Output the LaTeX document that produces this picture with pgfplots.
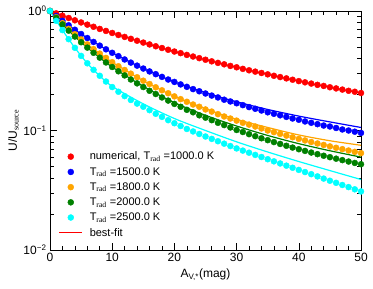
\documentclass[border=0pt]{standalone}
\usepackage{fontspec}
\setmainfont{Liberation Sans}
\newfontfamily\seriffont{Liberation Serif}
\usepackage{pgfplots}
\pgfplotsset{compat=1.18}
\usepackage{pgfplotstable}
\definecolor{myorange}{RGB}{255,165,0}
\definecolor{mygreen}{RGB}{0,128,0}
\definecolor{mycyan}{RGB}{0,255,255}

\pgfplotstableread{
x r b o g c
0 1 1 1 1 1
1 0.955 0.908 0.887 0.876 0.828
2 0.913 0.828 0.791 0.772 0.692
3 0.874 0.759 0.709 0.685 0.581
4 0.836 0.697 0.639 0.611 0.492
5 0.802 0.642 0.578 0.548 0.421
6 0.769 0.594 0.526 0.494 0.365
7 0.738 0.551 0.480 0.447 0.322
8 0.708 0.513 0.440 0.407 0.287
9 0.681 0.478 0.405 0.371 0.257
10 0.655 0.447 0.373 0.340 0.231
11 0.630 0.419 0.345 0.313 0.211
12 0.607 0.393 0.321 0.289 0.194
13 0.585 0.370 0.299 0.267 0.180
14 0.564 0.349 0.279 0.248 0.168
15 0.544 0.330 0.261 0.231 0.158
16 0.525 0.312 0.245 0.215 0.148
17 0.507 0.296 0.230 0.202 0.138
18 0.490 0.281 0.217 0.189 0.130
19 0.474 0.267 0.205 0.178 0.122
20 0.458 0.255 0.193 0.167 0.115
21 0.444 0.243 0.183 0.158 0.109
22 0.429 0.232 0.174 0.149 0.103
23 0.416 0.222 0.165 0.142 0.0982
24 0.403 0.213 0.158 0.134 0.0935
25 0.391 0.204 0.150 0.128 0.0891
26 0.379 0.196 0.144 0.122 0.0851
27 0.368 0.189 0.137 0.116 0.0813
28 0.358 0.181 0.131 0.111 0.0776
29 0.347 0.175 0.126 0.106 0.0741
30 0.338 0.169 0.121 0.101 0.0708
31 0.328 0.163 0.116 0.0971 0.0679
32 0.319 0.157 0.112 0.0932 0.0652
33 0.311 0.152 0.108 0.0896 0.0625
34 0.303 0.147 0.104 0.0861 0.0600
35 0.295 0.142 0.100 0.0830 0.0575
36 0.287 0.138 0.0969 0.0800 0.0552
37 0.280 0.134 0.0937 0.0772 0.0530
38 0.273 0.130 0.0906 0.0745 0.0508
39 0.266 0.126 0.0878 0.0720 0.0488
40 0.259 0.123 0.0851 0.0697 0.0468
41 0.253 0.119 0.0826 0.0675 0.0449
42 0.247 0.116 0.0801 0.0654 0.0431
43 0.241 0.113 0.0779 0.0634 0.0413
44 0.236 0.110 0.0757 0.0615 0.0396
45 0.230 0.108 0.0736 0.0598 0.0380
46 0.225 0.105 0.0717 0.0581 0.0365
47 0.220 0.102 0.0698 0.0565 0.0350
48 0.215 0.100 0.0680 0.0550 0.0336
49 0.211 0.0977 0.0663 0.0535 0.0322
50 0.206 0.0955 0.0647 0.0522 0.0309
}\numtab

\pgfplotstableread{
x r b o g c
0 1 1 1 1 1
2 0.913 0.828 0.791 0.772 0.692
4 0.836 0.697 0.639 0.611 0.492
6 0.769 0.594 0.526 0.494 0.365
8 0.708 0.513 0.440 0.407 0.287
10 0.655 0.447 0.373 0.340 0.234
15 0.544 0.330 0.261 0.234 0.167
20 0.458 0.255 0.193 0.171 0.126
25 0.391 0.207 0.152 0.134 0.100
30 0.338 0.174 0.124 0.109 0.0804
35 0.295 0.150 0.106 0.0909 0.0661
40 0.259 0.132 0.0918 0.0776 0.0550
45 0.230 0.118 0.0821 0.0677 0.0462
50 0.206 0.106 0.0752 0.0599 0.0389
}\fittab

\begin{document}
\begin{tikzpicture}
\begin{axis}[
  scale only axis, width=311pt, height=239pt,
  xmin=0, xmax=50, ymin=0.01, ymax=1, ymode=log,
  xtick={0,10,20,30,40,50}, minor x tick num=4,
  ytick={0.01,0.1,1},
  yticklabels={10\textsuperscript{−2},10\textsuperscript{−1},10\textsuperscript{0}},
  tick align=inside, major tick length=7pt, minor tick length=4pt,
  tick style={black, line width=0.6pt},
  axis line style={black, line width=0.8pt},
  /pgf/number format/assume math mode=true,
  tick label style={font=\fontsize{12}{14}\selectfont},
  label style={font=\fontsize{12}{14}\selectfont},
  xlabel={A\textsubscript{V,*}(mag)},
  ylabel={U/U\textsubscript{\seriffont source}},
  ylabel style={yshift=-2pt},
  legend style={draw=none, fill=none, at={(0.018,0.428)}, anchor=north west,
    font=\fontsize{11}{13}\selectfont, row sep=2pt},
  legend cell align=left,
  legend image code/.code={\draw[mark repeat=2,mark phase=2] plot coordinates {(0cm,0cm) (0.4cm,0cm) (0.8cm,0cm)};
    \path (0.8cm+5pt,0cm);},
]
\addplot[only marks, mark=*, mark size=3pt, color=red] table[x=x,y=r] {\numtab};
\addlegendentry{numerical, T\textsubscript{\seriffont rad} =1000.0 K}
\addplot[only marks, mark=*, mark size=3pt, color=blue] table[x=x,y=b] {\numtab};
\addlegendentry{T\textsubscript{\seriffont rad} =1500.0 K}
\addplot[only marks, mark=*, mark size=3pt, color=myorange] table[x=x,y=o] {\numtab};
\addlegendentry{T\textsubscript{\seriffont rad} =1800.0 K}
\addplot[only marks, mark=*, mark size=3pt, color=mygreen] table[x=x,y=g] {\numtab};
\addlegendentry{T\textsubscript{\seriffont rad} =2000.0 K}
\addplot[only marks, mark=*, mark size=3pt, color=mycyan] table[x=x,y=c] {\numtab};
\addlegendentry{T\textsubscript{\seriffont rad} =2500.0 K}
\addplot[color=red, line width=1.2pt, smooth, no marks] table[x=x,y=r] {\fittab};
\addlegendentry{best-fit}
\addplot[color=blue, line width=1.2pt, smooth, no marks, forget plot] table[x=x,y=b] {\fittab};
\addplot[color=myorange, line width=1.2pt, smooth, no marks, forget plot] table[x=x,y=o] {\fittab};
\addplot[color=mygreen, line width=1.2pt, smooth, no marks, forget plot] table[x=x,y=g] {\fittab};
\addplot[color=mycyan, line width=1.2pt, smooth, no marks, forget plot] table[x=x,y=c] {\fittab};
\end{axis}
\pgfresetboundingbox
\path[use as bounding box] ([shift={(-50pt,-38pt)}]current axis.south west) rectangle ([shift={(12pt,11pt)}]current axis.north east);
\end{tikzpicture}
\end{document}
